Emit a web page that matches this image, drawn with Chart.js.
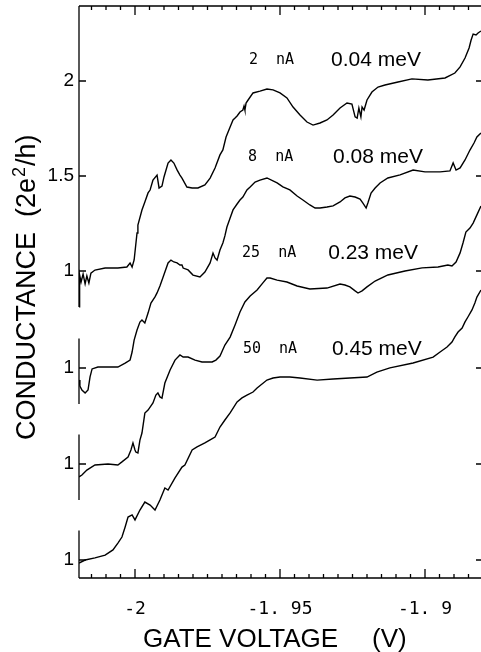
<!DOCTYPE html>
<html><head><meta charset="utf-8">
<script src="https://cdn.jsdelivr.net/npm/chart.js@4/dist/chart.umd.min.js"></script>
<style>html,body{margin:0;padding:0;background:#fff;overflow:hidden}canvas{display:block}</style>
</head><body>
<canvas id="c" width="484" height="652" style="width:484px;height:652px"></canvas>
<script>
// ---- data (gate voltage in V, conductance in 2e^2/h) ----
const xTickValues = [-2, -1.95, -1.9];
const xTickLabels = ['-2', '-1. 95', '-1. 9'];
const yTickConductance = [2, 1.5, 1, 1, 1, 1];
const yTickCurve = [0, 0, 0, 1, 2, 3];
const yTickLabels = ['2', '1.5', '1', '1', '1', '1'];
const curveOffsets = [0, 0.5105, 1.0158, 1.5211];
const currents = ['2  nA', '8  nA', '25  nA', '50  nA'];
const energies = ['0.04 meV', '0.08 meV', '0.23 meV', '0.45 meV'];

const v2nA = [-2.0193,-2.0191,-2.0186,-2.0179,-2.0172,-2.0166,-2.0159,-2.0152,-2.0138,-2.0103,
  -2.0059,-2.0028,-2.0017,-2.0010,-2.0003,-1.9993,-1.9990,-1.9976,-1.9966,-1.9955,
  -1.9948,-1.9938,-1.9924,-1.9917,-1.9907,-1.9900,-1.9886,-1.9876,-1.9866,-1.9855,
  -1.9845,-1.9838,-1.9821,-1.9803,-1.9783,-1.9759,-1.9741,-1.9724,-1.9707,-1.9697,
  -1.9686,-1.9672,-1.9662,-1.9655,-1.9648,-1.9638,-1.9628,-1.9624,-1.9621,-1.9617,
  -1.9610,-1.9593,-1.9569,-1.9545,-1.9524,-1.9500,-1.9476,-1.9455,-1.9431,-1.9407,
  -1.9386,-1.9362,-1.9338,-1.9317,-1.9293,-1.9269,-1.9252,-1.9241,-1.9234,-1.9228,
  -1.9221,-1.9217,-1.9210,-1.9200,-1.9183,-1.9162,-1.9138,-1.9093,-1.9045,-1.8990,
  -1.8931,-1.8897,-1.8879,-1.8862,-1.8848,-1.8841,-1.8834,-1.8824,-1.8817,-1.8807];
const g2nA = [0.811,0.979,0.942,0.984,0.932,0.974,0.937,0.989,1.005,1.016,
  1.016,1.021,1.042,1.021,1.058,1.200,1.242,1.321,1.363,1.411,
  1.426,1.479,1.505,1.437,1.447,1.495,1.568,1.584,1.568,1.532,
  1.505,1.489,1.442,1.437,1.437,1.453,1.489,1.542,1.611,1.637,
  1.705,1.758,1.795,1.805,1.816,1.837,1.847,1.868,1.847,1.884,
  1.900,1.937,1.947,1.958,1.953,1.937,1.911,1.863,1.821,1.784,
  1.768,1.779,1.795,1.821,1.858,1.884,1.879,1.811,1.805,1.858,
  1.811,1.863,1.847,1.900,1.942,1.968,1.979,1.995,2.011,2.005,
  2.016,2.042,2.074,2.121,2.174,2.216,2.247,2.242,2.253,2.263];

const v8nA = [-2.0193,-2.0190,-2.0183,-2.0172,-2.0162,-2.0155,-2.0148,-2.0128,-2.0093,-2.0059,
  -2.0034,-2.0017,-2.0010,-2.0003,-1.9993,-1.9983,-1.9976,-1.9966,-1.9955,-1.9945,
  -1.9931,-1.9924,-1.9914,-1.9903,-1.9886,-1.9876,-1.9866,-1.9855,-1.9845,-1.9838,
  -1.9834,-1.9817,-1.9800,-1.9776,-1.9759,-1.9741,-1.9731,-1.9724,-1.9717,-1.9707,
  -1.9697,-1.9690,-1.9683,-1.9672,-1.9662,-1.9648,-1.9638,-1.9628,-1.9614,-1.9603,
  -1.9586,-1.9569,-1.9545,-1.9510,-1.9490,-1.9466,-1.9441,-1.9421,-1.9397,-1.9379,
  -1.9362,-1.9338,-1.9317,-1.9293,-1.9276,-1.9259,-1.9241,-1.9224,-1.9214,-1.9203,
  -1.9197,-1.9186,-1.9172,-1.9155,-1.9128,-1.9086,-1.9041,-1.9000,-1.8948,-1.8914,
  -1.8903,-1.8893,-1.8879,-1.8862,-1.8845,-1.8831,-1.8821,-1.8807];
const g8nA = [0.937,0.905,0.884,0.868,0.884,0.953,0.995,1.005,1.005,1.005,
  1.026,1.042,1.084,1.147,1.200,1.242,1.253,1.237,1.289,1.342,
  1.374,1.395,1.432,1.479,1.553,1.568,1.558,1.553,1.542,1.542,
  1.526,1.516,1.489,1.479,1.505,1.553,1.605,1.579,1.568,1.621,
  1.658,1.695,1.742,1.789,1.832,1.863,1.884,1.900,1.937,1.953,
  1.979,1.989,2.000,1.974,1.953,1.937,1.905,1.884,1.858,1.842,
  1.842,1.847,1.853,1.874,1.895,1.905,1.900,1.889,1.868,1.842,
  1.868,1.921,1.947,1.974,2.000,2.016,2.042,2.032,2.032,2.037,
  2.079,2.042,2.053,2.095,2.147,2.184,2.216,2.237];

const v25nA = [-2.0193,-2.0183,-2.0166,-2.0138,-2.0093,-2.0059,-2.0045,-2.0024,-2.0014,-2.0007,
  -2.0000,-1.9997,-1.9990,-1.9983,-1.9976,-1.9966,-1.9955,-1.9938,-1.9928,-1.9921,
  -1.9914,-1.9907,-1.9897,-1.9879,-1.9862,-1.9845,-1.9834,-1.9817,-1.9793,-1.9769,
  -1.9748,-1.9734,-1.9721,-1.9707,-1.9690,-1.9672,-1.9655,-1.9638,-1.9621,-1.9603,
  -1.9579,-1.9559,-1.9545,-1.9534,-1.9510,-1.9476,-1.9441,-1.9397,-1.9338,-1.9293,
  -1.9276,-1.9259,-1.9241,-1.9231,-1.9217,-1.9200,-1.9172,-1.9128,-1.9069,-1.9010,
  -1.8955,-1.8921,-1.8907,-1.8893,-1.8879,-1.8869,-1.8859,-1.8845,-1.8834,-1.8821,-1.8807];
const g25nA = [0.932,0.942,0.968,0.995,1.000,0.995,1.011,1.037,1.074,1.111,
  1.074,1.063,1.058,1.126,1.163,1.268,1.284,1.321,1.363,1.374,
  1.353,1.347,1.426,1.495,1.547,1.574,1.563,1.563,1.547,1.537,
  1.537,1.537,1.547,1.568,1.626,1.668,1.732,1.800,1.853,1.884,
  1.916,1.953,1.979,1.979,1.968,1.958,1.937,1.921,1.926,1.947,
  1.942,1.932,1.911,1.900,1.911,1.932,1.963,1.995,2.016,2.032,
  2.037,2.047,2.042,2.063,2.111,2.163,2.221,2.242,2.268,2.311,2.358];

const v50nA = [-2.0193,-2.0172,-2.0138,-2.0103,-2.0076,-2.0059,-2.0045,-2.0034,-2.0024,-2.0010,
  -2.0000,-1.9983,-1.9966,-1.9948,-1.9931,-1.9914,-1.9897,-1.9886,-1.9862,-1.9838,
  -1.9828,-1.9803,-1.9786,-1.9759,-1.9741,-1.9724,-1.9707,-1.9690,-1.9672,-1.9648,
  -1.9631,-1.9614,-1.9593,-1.9579,-1.9545,-1.9524,-1.9500,-1.9466,-1.9431,-1.9372,
  -1.9317,-1.9259,-1.9200,-1.9166,-1.9121,-1.9041,-1.8972,-1.8948,-1.8924,-1.8907,
  -1.8897,-1.8886,-1.8872,-1.8862,-1.8852,-1.8838,-1.8828,-1.8821,-1.8807];
const g50nA = [0.984,1.000,1.011,1.026,1.053,1.089,1.121,1.174,1.226,1.237,
  1.211,1.263,1.305,1.289,1.263,1.316,1.379,1.368,1.432,1.489,
  1.500,1.579,1.595,1.616,1.632,1.647,1.700,1.737,1.774,1.832,
  1.853,1.868,1.884,1.905,1.947,1.958,1.963,1.963,1.958,1.947,
  1.953,1.958,1.963,1.989,2.011,2.037,2.068,2.095,2.121,2.147,
  2.174,2.200,2.221,2.253,2.279,2.316,2.353,2.384,2.421];

const voltages = [v2nA, v8nA, v25nA, v50nA];
const conductances = [g2nA, g8nA, g25nA, g50nA];

// ---- chart ----
const SANS = '"Liberation Sans", Arial, sans-serif';
const MONO = '"DejaVu Sans Mono", monospace';
const yTickPositions = yTickConductance.map((g, i) => g - curveOffsets[yTickCurve[i]]);

const datasets = voltages.map((vs, k) => ({
  label: currents[k],
  data: vs.map((v, i) => ({x: v, y: conductances[k][i] - curveOffsets[k]})),
  borderColor: '#000', borderWidth: 1.4, pointRadius: 0, tension: 0, fill: false
}));

const framePlugin = {
  id: 'frame',
  afterDraw(chart) {
    const {ctx, chartArea: a, scales: {x, y}} = chart;
    ctx.save();
    ctx.strokeStyle = '#000';
    ctx.lineWidth = 1.3;
    ctx.beginPath();
    ctx.moveTo(a.left, a.top); ctx.lineTo(a.right, a.top);
    ctx.moveTo(a.left, a.bottom); ctx.lineTo(a.right, a.bottom);
    // broken left axis: one piece per curve
    for (let k = 0; k < 4; k++) {
      const t = k === 0 ? a.top : y.getPixelForValue(1.155 - curveOffsets[k]);
      const b = k === 3 ? a.bottom : y.getPixelForValue(0.81 - curveOffsets[k]);
      ctx.moveTo(a.left, t); ctx.lineTo(a.left, b);
    }
    yTickPositions.forEach(v => {
      const p = y.getPixelForValue(v);
      ctx.moveTo(a.left, p); ctx.lineTo(a.left + 7, p);
      ctx.moveTo(a.right, p); ctx.lineTo(a.right - 7, p);
    });
    for (let i = -403; i <= -376; i++) {
      const p = x.getPixelForValue(i * 0.005);
      const len = (i % 10 === 0) ? 9 : 4;
      ctx.moveTo(p, a.top); ctx.lineTo(p, a.top + len);
      ctx.moveTo(p, a.bottom); ctx.lineTo(p, a.bottom - len);
    }
    ctx.stroke();

    // curve annotations
    ctx.fillStyle = '#000';
    ctx.textBaseline = 'middle';
    ctx.textAlign = 'left';
    const nAx = [-1.9607, -1.9610, -1.9631, -1.9628];
    const eVx = [-1.9324, -1.9317, -1.9334, -1.9321];
    for (let k = 0; k < 4; k++) {
      const py = y.getPixelForValue(2.11 - curveOffsets[k]);
      ctx.font = '15px ' + MONO;
      ctx.fillText(currents[k], x.getPixelForValue(nAx[k]), py);
      ctx.font = '21px ' + SANS;
      ctx.fillText(energies[k], x.getPixelForValue(eVx[k]), py);
    }

    // axis titles
    ctx.textBaseline = 'alphabetic';
    ctx.font = '26px ' + SANS;
    ctx.fillText('GATE VOLTAGE', 143, 647);
    ctx.fillText('(V)', 372, 647);

    ctx.translate(35, 440);
    ctx.rotate(-Math.PI / 2);
    ctx.font = '27px ' + SANS;
    let cx = 0;
    ctx.fillText('CONDUCTANCE', cx, 0);
    cx = 223;
    ctx.fillText('(2e', cx, 0);
    cx += ctx.measureText('(2e').width;
    ctx.font = '18px ' + SANS;
    ctx.fillText('2', cx + 1, -10);
    cx += ctx.measureText('2').width + 2;
    ctx.font = '27px ' + SANS;
    ctx.fillText('/h)', cx, 0);
    ctx.restore();
  }
};

new Chart(document.getElementById('c'), {
  type: 'line',
  data: {datasets},
  options: {
    responsive: false,
    animation: false,
    events: [],
    layout: {padding: {top: 6, right: 1, left: 0, bottom: 0}},
    plugins: {legend: {display: false}, tooltip: {enabled: false}},
    scales: {
      x: {
        type: 'linear', min: -2.01931, max: -1.88,
        grid: {display: false, drawTicks: false},
        border: {display: false},
        afterBuildTicks: s => { s.ticks = xTickValues.map(v => ({value: v})); },
        afterFit: s => { s.height = 74; s.paddingLeft = 0; s.paddingRight = 0; },
        ticks: {
          color: '#000', padding: 21, maxRotation: 0, autoSkip: false,
          font: {family: MONO, size: 18},
          callback: (v, i) => xTickLabels[i]
        }
      },
      y: {
        type: 'linear', min: -0.6158, max: 2.3947,
        grid: {display: false, drawTicks: false},
        border: {display: false},
        afterBuildTicks: s => { s.ticks = yTickPositions.map(v => ({value: v})); },
        afterFit: s => { s.width = 79; s.paddingTop = 0; s.paddingBottom = 0; },
        ticks: {
          color: '#000', padding: 5, autoSkip: false,
          font: {family: SANS, size: 19},
          callback: (v, i) => yTickLabels[i]
        }
      }
    }
  },
  plugins: [framePlugin]
});
</script>
</body></html>
